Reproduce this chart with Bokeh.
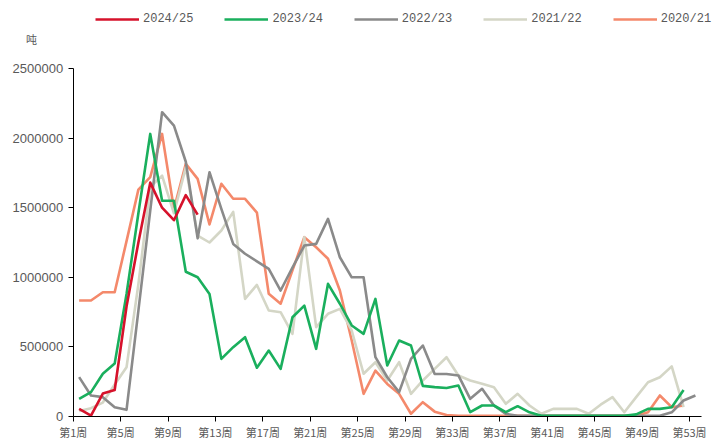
from bokeh.plotting import figure
from bokeh.models import Range1d, FixedTicker, Legend, LegendItem, Label, NumeralTickFormatter
from bokeh.embed import file_html
from bokeh.resources import INLINE

# ---- data (tons per week) ----
seasons = ["2024/25", "2023/24", "2022/23", "2021/22", "2020/21"]
colors = ["#d6122b", "#1aaf5d", "#8a8a8a", "#d4d6c6", "#f4896b"]

s2024_25 = [55000, 7000, 165000, 190000, 790000, 1250000, 1680000, 1500000, 1410000, 1590000, 1450000]

s2023_24 = [127000, 175000, 307000, 380000, 880000, 1460000, 2030000, 1550000, 1550000, 1040000,
            1000000, 880000, 414000, 498000, 570000, 350000, 474000, 342000, 713000, 797000,
            486000, 953000, 810000, 654000, 594000, 845000, 366000, 546000, 510000, 220000,
            211000, 205000, 223000, 31000, 79000, 79000, 31000, 74000, 30000, 5000,
            5000, 5000, 5000, 5000, 5000, 5000, 5000, 15000, 55000, 55000,
            67000, 190000]

s2022_23 = [283000, 151000, 139000, 67000, 48000, 760000, 1480000, 2186000, 2090000, 1830000,
            1280000, 1755000, 1492000, 1240000, 1169000, 1115000, 1060000, 905000, 1070000, 1228000,
            1240000, 1420000, 1144000, 1000000, 1000000, 426000, 282000, 175000, 414000, 510000,
            305000, 305000, 295000, 127000, 199000, 79000, 19000, 5000, 5000, 5000,
            5000, 5000, 5000, 5000, 5000, 5000, 5000, 5000, 5000, 5000,
            30000, 115000, 151000]

s2021_22 = [40000, 60000, 100000, 230000, 354000, 950000, 1650000, 1730000, 1460000, 1790000,
            1300000, 1250000, 1336000, 1470000, 845000, 945000, 761000, 749000, 594000, 1288000,
            642000, 738000, 773000, 618000, 307000, 390000, 259000, 390000, 163000, 259000,
            342000, 426000, 295000, 259000, 235000, 211000, 91000, 163000, 79000, 20000,
            55000, 55000, 55000, 20000, 85000, 139000, 31000, 139000, 246000, 282000,
            360000, 67000]

s2020_21 = [833000, 833000, 893000, 893000, 1260000, 1630000, 1720000, 2030000, 1490000, 1815000,
            1707000, 1380000, 1672000, 1564000, 1564000, 1465000, 881000, 810000, 1050000, 1288000,
            1216000, 1133000, 905000, 546000, 163000, 330000, 234000, 163000, 20000, 103000,
            35000, 10000, 5000, 5000, 5000, 5000, 5000, 5000, 5000, 5000,
            5000, 5000, 5000, 5000, 5000, 5000, 5000, 5000, 31000, 151000,
            67000, 79000]

series = [s2024_25, s2023_24, s2022_23, s2021_22, s2020_21]

n_weeks = 53
tick_weeks = list(range(1, 54, 4))
tick_labels = ["第%d周" % w for w in tick_weeks]
y_max = 2500000
y_ticks = [0, 500000, 1000000, 1500000, 2000000, 2500000]
unit_label = "吨"

# ---- layout (pixels) ----
W, H = 712, 438
axis_x_px = 72.7          # y-axis position
week_px = 11.852          # width of one week
axis_y_px = 416.0         # x-axis position (from top)
top_px = 68.0             # pixel of y_max
ppu = (axis_y_px - top_px) / y_max

x_start = -axis_x_px / week_px
x_end = (W - axis_x_px) / week_px
y_start = -(H - axis_y_px) / ppu
y_end = axis_y_px / ppu

p = figure(width=W, height=H, output_backend="svg", toolbar_location=None,
           x_range=Range1d(x_start, x_end), y_range=Range1d(y_start, y_end),
           min_border_left=0, min_border_right=0, min_border_top=0, min_border_bottom=0)
p.outline_line_color = None
p.xgrid.grid_line_color = None
p.ygrid.grid_line_color = None
p.background_fill_color = "white"

renderers = {}
draw_order = [4, 3, 2, 1, 0]
for i in draw_order:
    ys = series[i]
    xs = [w - 0.5 for w in range(1, len(ys) + 1)]
    r = p.line(xs, ys, line_color=colors[i], line_width=2.6, line_join="round")
    renderers[i] = r

legend = Legend(items=[LegendItem(label=seasons[i], renderers=[renderers[i]]) for i in range(5)],
                orientation="horizontal", location=(95, H - 26))
legend.label_text_font = "Liberation Mono"
legend.label_text_font_size = "12px"
legend.label_text_color = "#595959"
legend.glyph_width = 44
legend.glyph_height = 14
legend.label_height = 14
legend.label_standoff = 4
legend.spacing = 31
legend.padding = 2
legend.margin = 0
legend.border_line_color = None
legend.background_fill_alpha = 0
p.add_layout(legend, "center")

# axes (fixed inside the frame)
xa = p.xaxis[0]
xa.fixed_location = 0
xa.bounds = (0, n_weeks)
xa.ticker = FixedTicker(ticks=[w - 1 for w in tick_weeks])
xa.major_label_overrides = {w - 1: lab for w, lab in zip(tick_weeks, tick_labels)}
xa.major_label_text_font = "Noto Sans CJK SC"
xa.major_label_text_font_size = "11px"
xa.major_label_text_color = "#595959"
xa.axis_line_color = "black"
xa.major_tick_line_color = "black"
xa.major_tick_out = 5
xa.major_tick_in = 0
xa.minor_tick_line_color = None
xa.major_label_standoff = 2

ya = p.yaxis[0]
ya.fixed_location = 0
ya.bounds = (0, y_max)
ya.ticker = FixedTicker(ticks=y_ticks)
ya.formatter = NumeralTickFormatter(format="0")
ya.major_label_text_font = "Liberation Sans"
ya.major_label_text_font_size = "13px"
ya.major_label_text_color = "#595959"
ya.axis_line_color = "black"
ya.major_tick_line_color = "black"
ya.major_tick_out = 5
ya.major_tick_in = 0
ya.minor_tick_line_color = None
ya.major_label_standoff = 5

p.add_layout(Label(x=31, y=H - 38, x_units="screen", y_units="screen", text=unit_label,
                   text_font="Noto Sans CJK SC", text_font_size="11px",
                   text_color="#595959", text_align="center", text_baseline="middle"))

open("out.html", "w").write(file_html(p, INLINE))
